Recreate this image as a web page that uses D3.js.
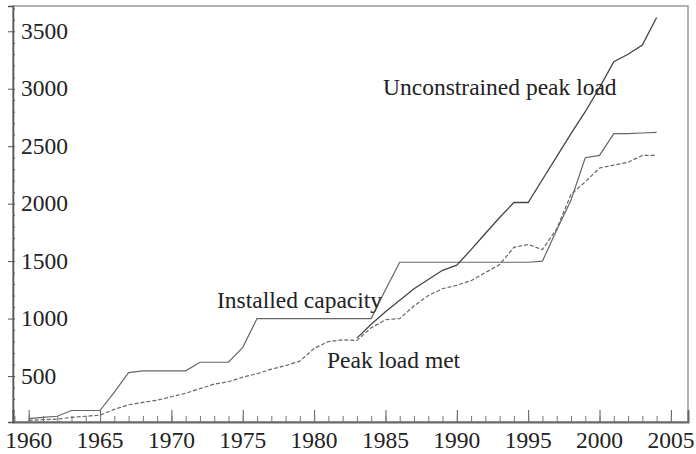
<!DOCTYPE html>
<html>
<head>
<meta charset="utf-8">
<script src="https://cdn.jsdelivr.net/npm/d3@7"></script>
<style>
  body { margin: 0; background: #fff; }
</style>
</head>
<body>
<div id="chart"></div>
<script>
var width = 696, height = 454;
var serif = "Liberation Serif";

// yearly values, 1960 - 2004
var years = d3.range(1960, 2005);
var installed = [130, 140, 150, 200, 200, 200, 360, 530, 545, 545,
                 545, 545, 620, 620, 620, 750, 1000, 1000, 1000, 1000,
                 1000, 1000, 1000, 1000, 1000, 1250, 1490, 1490, 1490, 1490,
                 1490, 1490, 1490, 1490, 1490, 1490, 1500, 1770, 2030, 2400,
                 2420, 2610, 2610, 2615, 2620];
var peakMet = [115, 120, 125, 140, 150, 160, 210, 250, 270, 290,
               320, 350, 390, 430, 450, 490, 520, 560, 590, 630,
               740, 800, 815, 810, 920, 990, 1000, 1110, 1200, 1260,
               1290, 1330, 1400, 1470, 1620, 1645, 1600, 1780, 2080, 2190,
               2310, 2335, 2360, 2420, 2420];
// unconstrained peak load only separates from peak load met after 1983
var unconstrainedYears = d3.range(1983, 2005);
var unconstrained = [830, 950, 1060, 1160, 1260, 1340, 1420,
                     1465, 1600, 1740, 1880, 2010, 2010, 2210, 2410, 2610, 2800,
                     3010, 3235, 3300, 3380, 3620];
var yTicks = [500, 1000, 1500, 2000, 2500, 3000, 3500];
var xTicks = [1960, 1965, 1970, 1975, 1980, 1985, 1990, 1995, 2000, 2005];

var x = d3.scaleLinear().domain([1958.9, 2006.2]).range([13, 688]);
var y = d3.scaleLinear().domain([100, 3720]).range([422, 6]);

var svg = d3.select("#chart").append("svg")
    .attr("width", width)
    .attr("height", height);

// frame
svg.append("rect")
    .attr("x", 13).attr("y", 6)
    .attr("width", 675).attr("height", 416)
    .attr("fill", "none")
    .attr("stroke", "#999")
    .attr("stroke-width", 1.5);

// x axis: major ticks every 5 years, minor each year (pointing up)
svg.append("g")
    .attr("transform", "translate(0,422)")
    .call(d3.axisTop(x).tickValues(xTicks).tickSize(12).tickFormat(""))
    .call(g => g.select(".domain").attr("stroke", "#666").attr("stroke-width", 2))
    .call(g => g.selectAll(".tick line").attr("stroke", "#555"));
svg.append("g")
    .attr("transform", "translate(0,422)")
    .call(d3.axisTop(x).tickValues(d3.range(1959, 2006)).tickSize(6).tickFormat(""))
    .call(g => g.select(".domain").remove())
    .call(g => g.selectAll(".tick line").attr("stroke", "#777"));

svg.selectAll(".xlab")
    .data(xTicks)
    .enter().append("text")
    .attr("class", "xlab")
    .attr("x", d => x(d))
    .attr("y", 448)
    .attr("text-anchor", "middle")
    .attr("font-family", serif)
    .attr("font-size", 23.5)
    .attr("fill", "#222")
    .text(d => d);

// y axis
svg.append("g")
    .attr("transform", "translate(13,0)")
    .call(d3.axisLeft(y).tickValues(yTicks).tickSize(5).tickFormat(""))
    .call(g => g.select(".domain").attr("stroke", "#555").attr("stroke-width", 1.5))
    .call(g => g.selectAll(".tick line").attr("stroke", "#555"));
svg.append("g")
    .attr("transform", "translate(13,0)")
    .call(d3.axisRight(y).tickValues(d3.range(200, 3701, 100)).tickSize(2).tickFormat(""))
    .call(g => g.select(".domain").remove())
    .call(g => g.selectAll(".tick line").attr("stroke", "#555"));

svg.selectAll(".ylab")
    .data(yTicks)
    .enter().append("text")
    .attr("class", "ylab")
    .attr("x", 21)
    .attr("y", d => y(d))
    .attr("dy", "0.33em")
    .attr("font-family", serif)
    .attr("font-size", 23.5)
    .attr("fill", "#222")
    .text(d => d);

// lines
var line = function(xs, vals) {
    return d3.line()
        .x((d, i) => x(xs[i]))
        .y(d => y(d))(vals);
};

svg.append("path")
    .attr("d", line(years, installed))
    .attr("fill", "none")
    .attr("stroke", "#666")
    .attr("stroke-width", 1.2);

svg.append("path")
    .attr("d", line(years, peakMet))
    .attr("fill", "none")
    .attr("stroke", "#666")
    .attr("stroke-width", 1.2)
    .attr("stroke-dasharray", "4,2");

svg.append("path")
    .attr("d", line(unconstrainedYears, unconstrained))
    .attr("fill", "none")
    .attr("stroke", "#444")
    .attr("stroke-width", 1.3);

// labels
var labels = [
    {text: "Unconstrained peak load", x: 383, y: 95},
    {text: "Installed capacity", x: 217, y: 308},
    {text: "Peak load met", x: 327, y: 368}
];
svg.selectAll(".lab")
    .data(labels)
    .enter().append("text")
    .attr("class", "lab")
    .attr("x", d => d.x)
    .attr("y", d => d.y)
    .attr("font-family", serif)
    .attr("font-size", 23.5)
    .attr("fill", "#222")
    .text(d => d.text);
</script>
</body>
</html>
